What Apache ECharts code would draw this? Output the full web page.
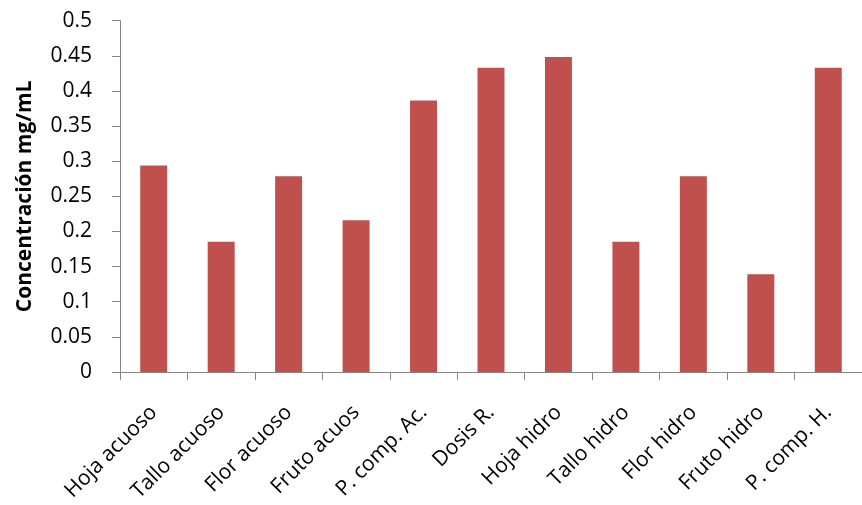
<!DOCTYPE html>
<html>
<head>
<meta charset="utf-8">
<script src="https://cdn.jsdelivr.net/npm/echarts@6/dist/echarts.min.js"></script>
<style>html,body{margin:0;padding:0;background:#fff}#c{width:862px;height:505px}</style>
</head>
<body>
<div id="c"></div>
<script>
var categories = ["Hoja acuoso","Tallo acuoso","Flor acuoso","Fruto acuos","P. comp. Ac.","Dosis R.","Hoja hidro","Tallo hidro","Flor hidro","Fruto hidro","P. comp. H."];
var values = [0.294, 0.1855, 0.2785, 0.216, 0.3865, 0.433, 0.4485, 0.1855, 0.2785, 0.139, 0.433];
var yTicks = {min: 0, max: 0.5, interval: 0.05};
var yTitle = "Concentración mg/mL";

var chart = echarts.init(document.getElementById('c'), null, {renderer: 'canvas'});
var font = "'Open Sans', 'Noto Sans', sans-serif";
chart.setOption({
  animation: false,
  grid: {left: 120, top: 20.7, width: 750.5, height: 351.3, containLabel: false},
  xAxis: {
    type: 'category',
    data: categories,
    axisLine: {lineStyle: {color: '#868686', width: 1}},
    axisTick: {show: true, length: 8, lineStyle: {color: '#868686'}},
    axisLabel: {rotate: 45, interval: 0, margin: 37, color: '#000', fontSize: 21, fontFamily: font}
  },
  yAxis: {
    type: 'value',
    min: yTicks.min, max: yTicks.max, interval: yTicks.interval,
    name: yTitle,
    nameLocation: 'middle',
    nameGap: 84,
    nameRotate: 90,
    nameTextStyle: {color: '#000', fontSize: 21, fontWeight: 'bold', fontFamily: font},
    axisLine: {show: true, lineStyle: {color: '#868686', width: 1}},
    axisTick: {show: true, length: 8, lineStyle: {color: '#868686'}},
    splitLine: {show: false},
    axisLabel: {color: '#000', fontSize: 21, fontFamily: font, margin: 28,
      formatter: function (v) { return String(parseFloat(v.toFixed(2))); }}
  },
  series: [{
    type: 'bar',
    data: values,
    barWidth: '40%',
    itemStyle: {color: '#C0504D'}
  }]
});
</script>
</body>
</html>
